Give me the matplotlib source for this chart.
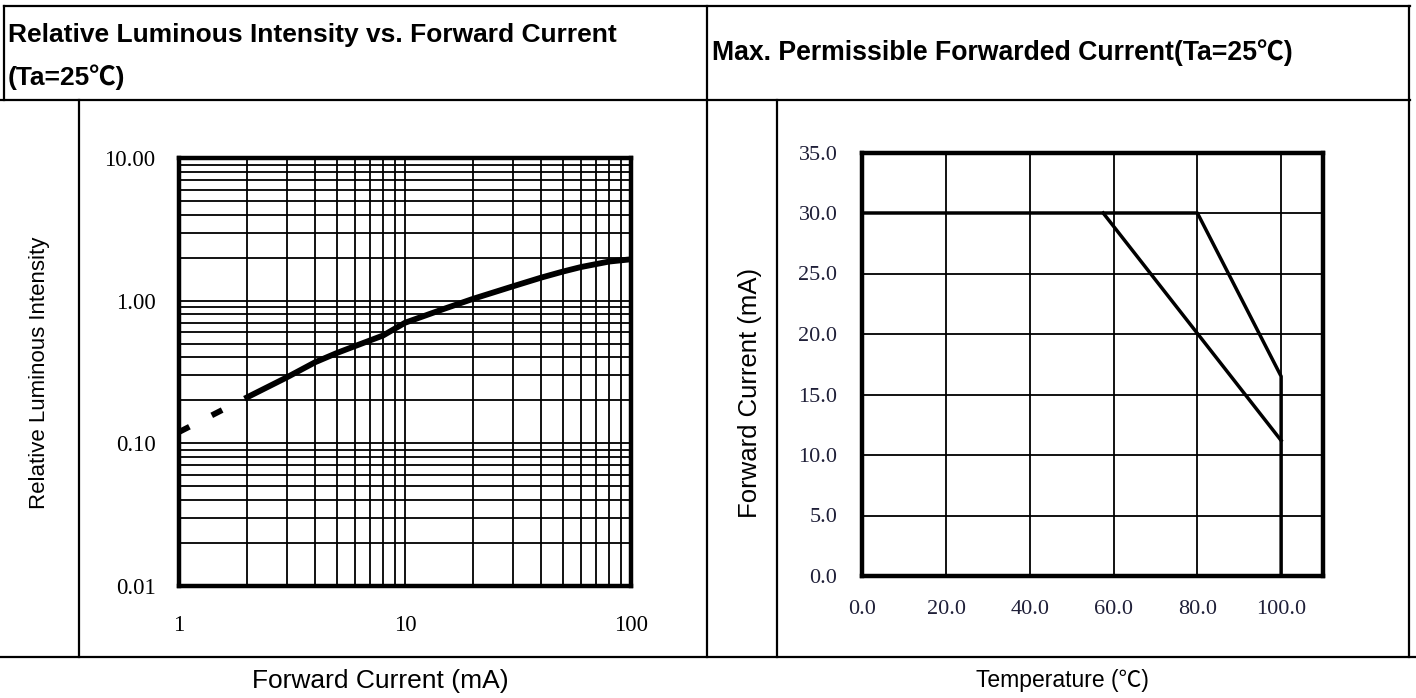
import matplotlib
matplotlib.use("Agg")
import matplotlib.pyplot as plt
from matplotlib.lines import Line2D

# left chart: relative luminous intensity vs forward current
current_solid = [2, 3, 4, 5, 6, 8, 10, 15, 20, 30, 40, 50, 60, 80, 100]
lum_solid = [0.21, 0.29, 0.37, 0.43, 0.48, 0.57, 0.70, 0.88, 1.03, 1.26, 1.45, 1.60, 1.72, 1.88, 1.95]
current_dash = [1, 2]
lum_dash = [0.12, 0.21]
x_ticks_l = [1, 10, 100]
x_labels_l = ['1', '10', '100']
y_ticks_l = [0.01, 0.1, 1, 10]
y_labels_l = ['0.01', '0.10', '1.00', '10.00']

# right chart: max permissible forward current vs temperature
temp_outer = [0, 80, 100, 100]
if_outer = [30, 30, 16.5, 0]
temp_inner = [57.5, 100]
if_inner = [30, 11.2]
x_ticks_r = [0, 20, 40, 60, 80, 100]
y_ticks_r = [0, 5, 10, 15, 20, 25, 30, 35]

W, H = 1416, 698
fig = plt.figure(figsize=(W / 100, H / 100), dpi=100)
fig.patch.set_facecolor('white')


def box(x0, y0, x1, y1):
    # pixel box (top-left origin) -> figure fraction rect
    return [x0 / W, 1 - y1 / H, (x1 - x0) / W, (y1 - y0) / H]


def hline(y, x0, x1, lw=1.6):
    fig.add_artist(Line2D([x0 / W, x1 / W], [1 - y / H, 1 - y / H], color='black', lw=lw))


def vline(x, y0, y1, lw=1.6):
    fig.add_artist(Line2D([x / W, x / W], [1 - y0 / H, 1 - y1 / H], color='black', lw=lw))


# table frame
hline(6, 4, 1410)
hline(100, 0, 1410)
hline(657, 0, 1416)
vline(4, 6, 100)
vline(707, 6, 657)
vline(1409, 6, 657)
vline(79, 100, 657)
vline(777, 100, 657)

sans = ['Liberation Sans', 'Noto Sans CJK SC']
fig.text(8 / W, 1 - 35 / H, 'Relative Luminous Intensity vs. Forward Current',
         family=sans, weight='bold', fontsize=19, va='center', ha='left')
fig.text(8 / W, 1 - 77 / H, '(Ta=25℃)',
         family=sans, weight='bold', fontsize=19, va='center', ha='left')
fig.text(712 / W, 1 - 53 / H, 'Max. Permissible Forwarded Current(Ta=25℃)',
         family=sans, weight='bold', fontsize=19.2, va='center', ha='left')

fig.text(40 / W, 1 - 373 / H, 'Relative Luminous Intensity', family=sans,
         fontsize=16, rotation=90, va='center', ha='center')
fig.text(750 / W, 1 - 393 / H, 'Forward Current (mA)', family=sans,
         fontsize=18.5, rotation=90, va='center', ha='center')
fig.text(380 / W, 1 - 681 / H, 'Forward Current (mA)', family=sans,
         fontsize=19, va='center', ha='center')
fig.text(1062 / W, 1 - 681 / H, 'Temperature (℃)', family=sans,
         fontsize=16.5, va='center', ha='center')

# left chart
ax1 = fig.add_axes(box(179, 158, 631, 586))
ax1.set_xscale('log')
ax1.set_yscale('log')
ax1.plot(current_solid, lum_solid, color='black', lw=4.2, solid_capstyle='butt')
ax1.plot(current_dash, lum_dash, color='black', lw=4.2, linestyle=(0, (2.0, 4.3)),
         dash_capstyle='butt')
ax1.set_xlim(1, 100)
ax1.set_ylim(0.01, 10)
ax1.set_xticks(x_ticks_l)
ax1.set_xticklabels(x_labels_l)
ax1.set_yticks(y_ticks_l)
ax1.set_yticklabels(y_labels_l)
ax1.grid(True, which='both', color='black', lw=1.3)
ax1.tick_params(which='both', length=0)
ax1.tick_params(axis='x', pad=21)
ax1.tick_params(axis='y', pad=17)
for lab in ax1.get_xticklabels() + ax1.get_yticklabels():
    lab.set_family('Liberation Serif')
    lab.set_fontsize(16.5)
for sp in ax1.spines.values():
    sp.set_linewidth(3.2)

# right chart
ax2 = fig.add_axes(box(862.4, 152.5, 1323, 576))
ax2.plot(temp_outer, if_outer, color='black', lw=2.5)
ax2.plot(temp_inner, if_inner, color='black', lw=2.5)
ax2.set_xlim(0, 110)
ax2.set_ylim(0, 35)
ax2.set_xticks(x_ticks_r)
ax2.set_xticklabels([f'{v:.1f}' for v in x_ticks_r])
ax2.set_yticks(y_ticks_r)
ax2.set_yticklabels([f'{v:.1f}' for v in y_ticks_r])
ax2.grid(True, color='black', lw=1.3)
ax2.tick_params(length=0, colors='#1f1f38')
ax2.tick_params(axis='x', pad=17)
ax2.tick_params(axis='y', pad=18)
for lab in ax2.get_xticklabels() + ax2.get_yticklabels():
    lab.set_family('Liberation Serif')
    lab.set_fontsize(16)
for sp in ax2.spines.values():
    sp.set_linewidth(3.2)

fig.savefig('out.png', dpi=100, facecolor='white')
